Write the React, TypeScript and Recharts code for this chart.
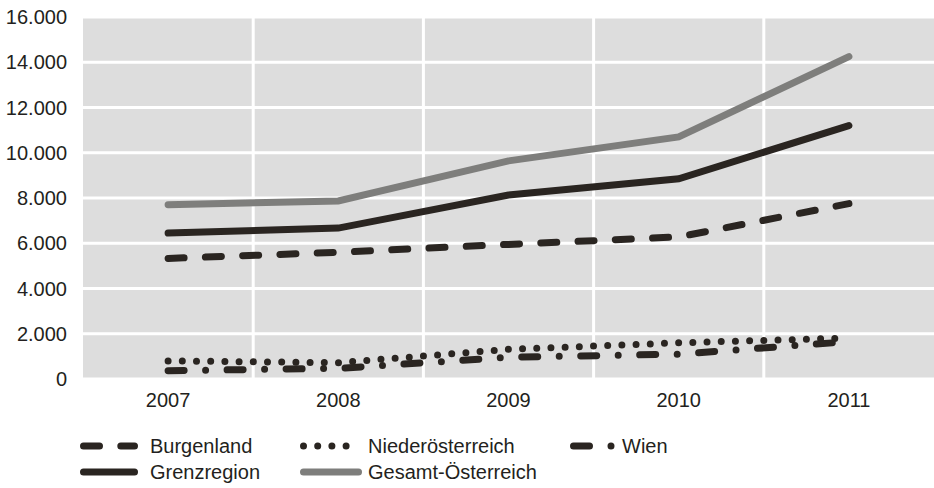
import React from "react";
import {
  LineChart,
  Line,
  XAxis,
  YAxis,
  CartesianGrid,
  Legend,
} from "recharts";

const YEARS = ["2007", "2008", "2009", "2010", "2011"];
const BURGENLAND = [5330, 5600, 5950, 6280, 7750];
const NIEDEROESTERREICH = [800, 720, 1310, 1600, 1810];
const WIEN = [370, 470, 960, 1100, 1650];
const GRENZREGION = [6450, 6670, 8130, 8850, 11200];
const GESAMT = [7700, 7870, 9640, 10700, 14250];
const Y_TICKS = [0, 2000, 4000, 6000, 8000, 10000, 12000, 14000, 16000];

const DARK = "#2a2521";
const GREY = "#7e7e7c";
const FONT = "'Liberation Sans', Arial, sans-serif";

const SERIES = [
  { key: "Gesamt-Österreich", color: GREY, dash: undefined },
  { key: "Grenzregion", color: DARK, dash: undefined },
  { key: "Burgenland", color: DARK, dash: "16 21.3" },
  { key: "Niederösterreich", color: DARK, dash: "0 14.2" },
  { key: "Wien", color: DARK, dash: "16 21.5 0 21.5" },
];

const data = YEARS.map((year, i) => ({
  year,
  Burgenland: BURGENLAND[i],
  Niederösterreich: NIEDEROESTERREICH[i],
  Wien: WIEN[i],
  Grenzregion: GRENZREGION[i],
  "Gesamt-Österreich": GESAMT[i],
}));

const fmt = (v: number) => String(v).replace(/\B(?=(\d{3})+(?!\d))/g, ".");

// grid lines sit between the year bands, not on them
const bandEdges = ({ offset }: any) =>
  YEARS.slice(1).map((_, i) => offset.left + (offset.width * (i + 1)) / YEARS.length);

function LegendItem({ left, top, label, color, dash, len, textLeft }: any) {
  return (
    <div style={{ position: "absolute", left, top, height: 26, display: "flex", alignItems: "center" }}>
      <svg width={len + 8} height={12} style={{ display: "block" }}>
        <line
          x1={3.5}
          y1={6}
          x2={len - 3.5}
          y2={6}
          stroke={color}
          strokeWidth={7}
          strokeLinecap="round"
          strokeDasharray={dash}
        />
      </svg>
      <span
        style={{
          position: "absolute",
          left: textLeft,
          whiteSpace: "nowrap",
          fontSize: 20,
          color: "#231f20",
          fontFamily: FONT,
          lineHeight: "26px",
        }}
      >
        {label}
      </span>
    </div>
  );
}

function ChartLegend() {
  return (
    <div style={{ position: "relative", width: 934, height: 69 }}>
      <LegendItem left={80} top={14} label="Burgenland" color={DARK} dash="16 21.3" len={58} textLeft={70} />
      <LegendItem left={300} top={14} label="Niederösterreich" color={DARK} dash="0 14.2" len={50} textLeft={68} />
      <LegendItem left={570} top={14} label="Wien" color={DARK} dash="16 21.5 0 30" len={48} textLeft={52} />
      <LegendItem left={80} top={40} label="Grenzregion" color={DARK} len={58} textLeft={70} />
      <LegendItem left={300} top={40} label="Gesamt-Österreich" color={GREY} len={62} textLeft={68} />
    </div>
  );
}

export default function App() {
  return (
    <div style={{ position: "absolute", left: 0, top: 0, width: 934, height: 488, background: "#fff" }}>
      <LineChart width={934} height={488} data={data} margin={{ top: 17, right: 0, left: 0, bottom: 0 }}>
        <CartesianGrid
          fill="#dddddd"
          stroke="#ffffff"
          strokeWidth={3}
          verticalCoordinatesGenerator={bandEdges}
        />
        <XAxis
          dataKey="year"
          scale="band"
          height={40}
          axisLine={false}
          tickLine={false}
          tickSize={0}
          tickMargin={14}
          tick={{ fontSize: 20, fill: "#231f20", fontFamily: FONT }}
        />
        <YAxis
          domain={[0, 16000]}
          ticks={Y_TICKS}
          width={83}
          axisLine={false}
          tickLine={false}
          tickSize={0}
          tickMargin={16}
          tickFormatter={fmt}
          tick={{ fontSize: 20, fill: "#231f20", fontFamily: FONT }}
        />
        <Legend verticalAlign="bottom" align="left" height={69} content={() => <ChartLegend />} />
        {SERIES.map((s) => (
          <Line
            key={s.key}
            dataKey={s.key}
            type="linear"
            stroke={s.color}
            strokeWidth={7}
            strokeLinecap="round"
            strokeDasharray={s.dash}
            dot={false}
            activeDot={false}
            isAnimationActive={false}
          />
        ))}
      </LineChart>
    </div>
  );
}
